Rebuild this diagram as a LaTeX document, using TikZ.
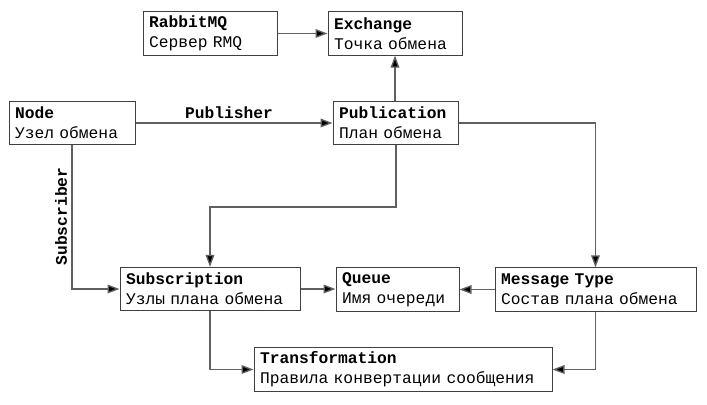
\documentclass[tikz,border=0pt]{standalone}
\usepackage{fontspec}
\setmainfont{Liberation Mono}
\usetikzlibrary{arrows.meta}
\definecolor{boxc}{HTML}{404040}
\definecolor{linec}{HTML}{606060}
\tikzset{
  box/.style={draw=boxc, line width=0.75pt, rectangle, fill=white, inner xsep=4.5pt, inner ysep=0pt,
    minimum height=32.5pt, align=left, font=\fontsize{12.2}{15}\selectfont},
  conn/.style={draw=linec, line width=1pt, -{Triangle[length=9pt,width=6.5pt,fill=black]}},
  lbl/.style={font=\fontsize{12.2}{15}\selectfont\bfseries, inner sep=0pt}
}
\begin{document}
\begin{tikzpicture}[x=0.75pt,y=-0.75pt]
\useasboundingbox (0,0) rectangle (707,404);
\node[box, text width=91.5pt] (rmq) at (210,33.5) {\textbf{RabbitMQ}\\Сервер RMQ};
\node[box, text width=91.5pt] (exc) at (395,33.5) {\textbf{Exchange}\\Точка обмена};
\node[box, text width=85.5pt] (node) at (72,123) {\textbf{Node}\\Узел обмена};
\node[box, text width=84.75pt] (pub) at (395.5,123) {\textbf{Publication}\\План обмена};
\node[box, text width=126pt] (sub) at (210,289) {\textbf{Subscription}\\Узлы плана обмена};
\node[box, text width=83.25pt] (que) at (397.5,289.5) {\textbf{Queue}\\Имя очереди};
\node[box, text width=141.75pt] (msg) at (595.5,289.5) {\textbf{Message Type}\\Состав плана обмена};
\node[box, text width=214.5pt] (trf) at (403,369.5) {\textbf{Transformation}\\Правила конвертации сообщения};
\coordinate (c1) at (396,207);
\coordinate (c2) at (210,207);
\node[lbl] (plbl) at (229,112.5) {Publisher};
\node[lbl, rotate=90] (slbl) at (61,216.5) {Subscriber};
\draw[conn] (rmq.east) -- (exc.west);
\draw[conn] (pub.north -| exc.south) -- (exc.south);
\draw[conn] (node.east) -- (pub.west);
\draw[conn] (node.south) |- (sub.west);
\draw[conn] (pub.south -| c1) -- (c1) -- (c2) -- (sub.north);
\draw[conn] (pub.east) -| (msg.north);
\draw[conn] (sub.east) -- (sub.east -| que.west);
\draw[conn] (msg.west) -- (msg.west -| que.east);
\draw[conn] (sub.south) |- (trf.west);
\draw[conn] (msg.south) |- (trf.east);
\end{tikzpicture}
\end{document}
